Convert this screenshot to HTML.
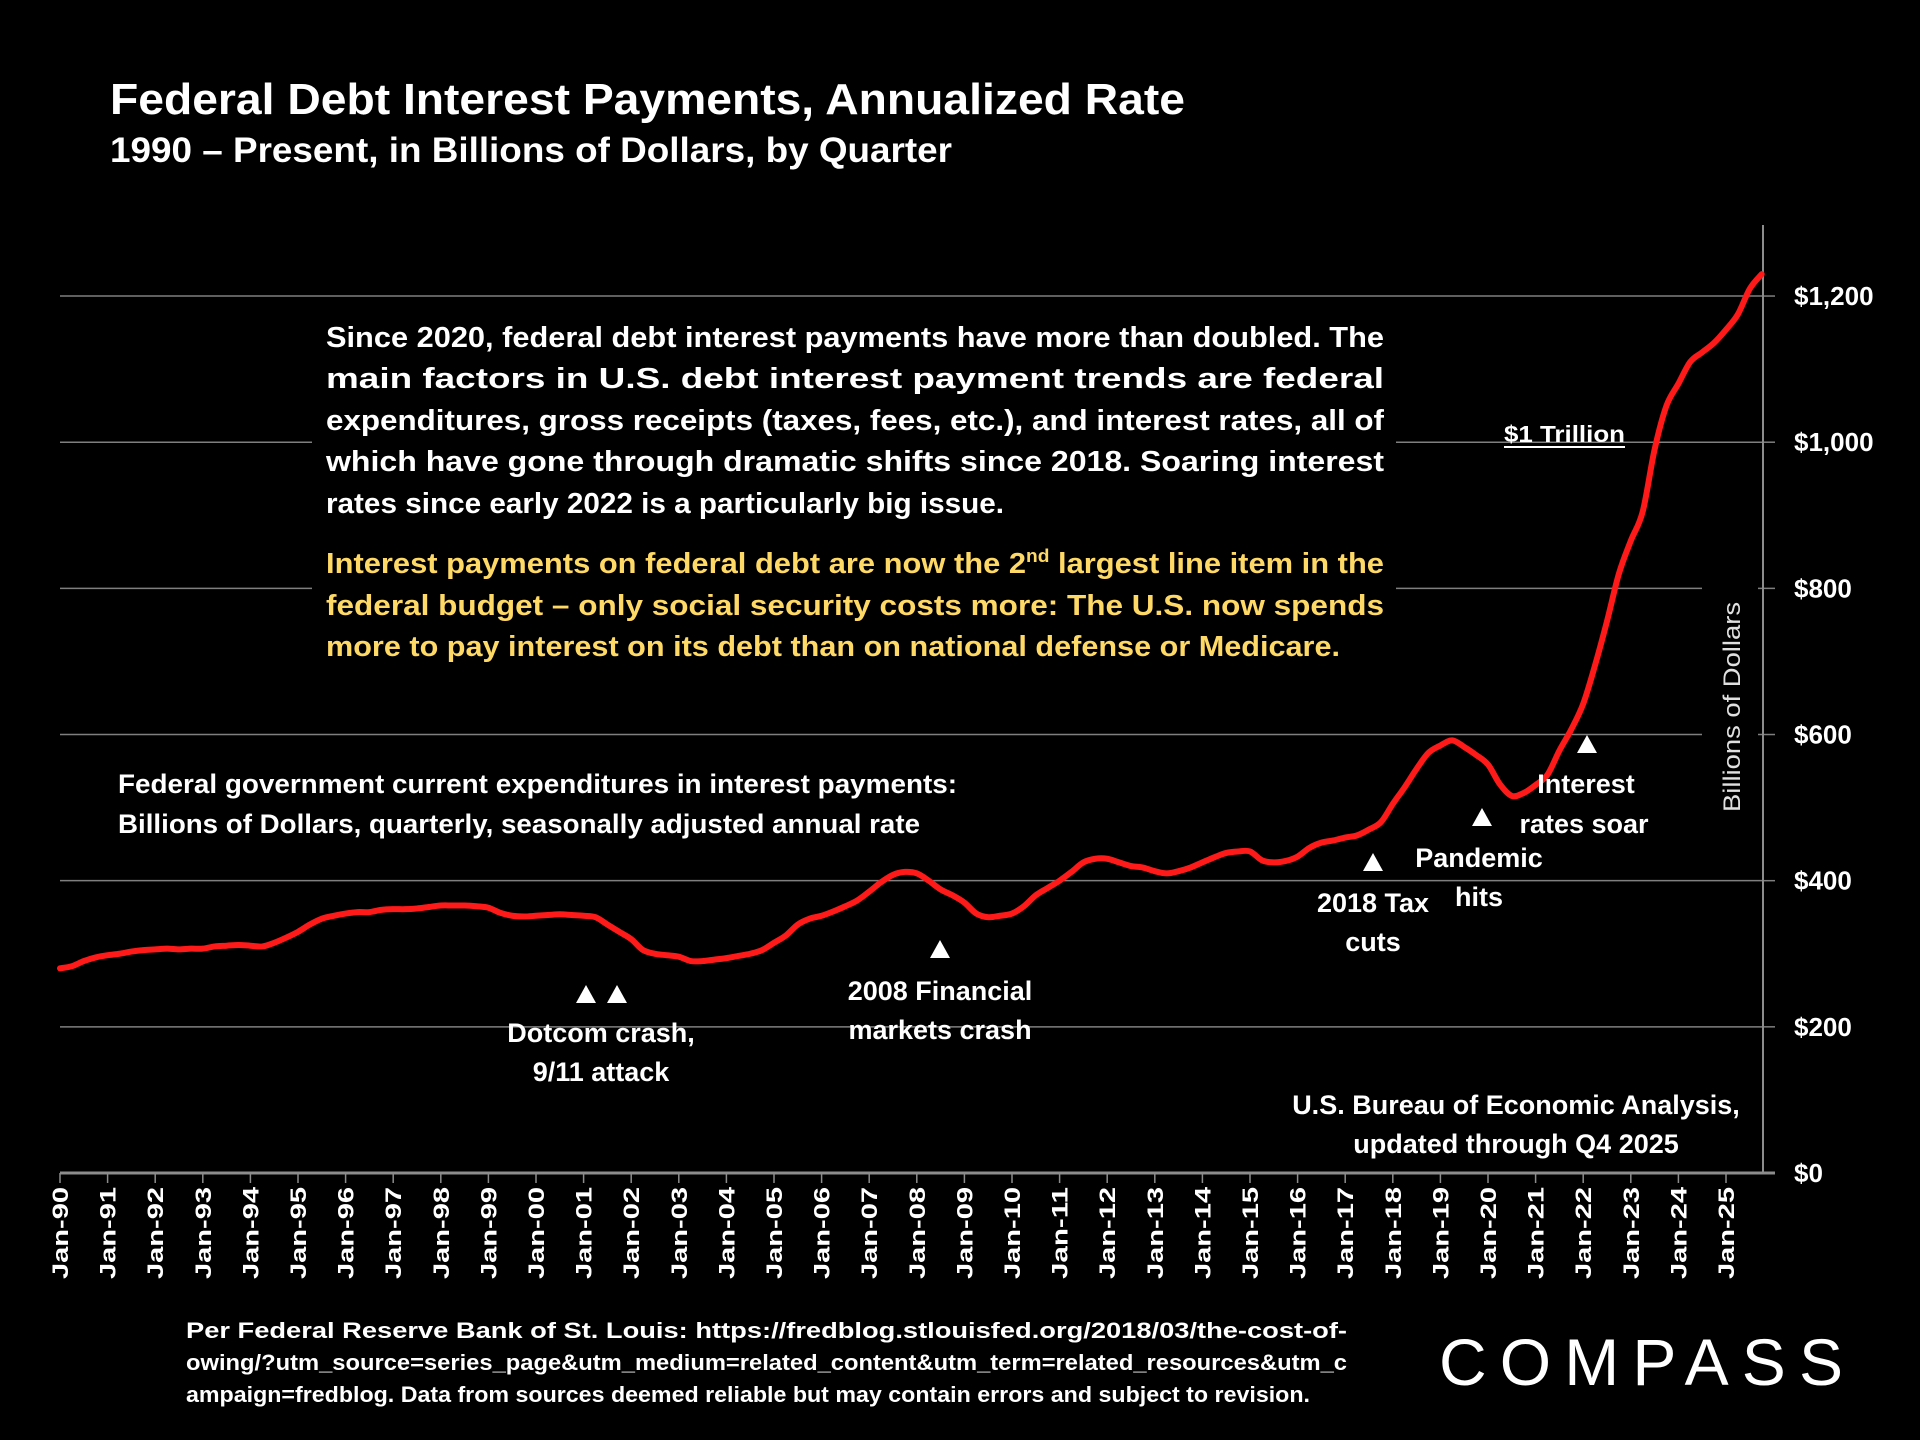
<!DOCTYPE html>
<html><head><meta charset="utf-8"><style>
html,body{margin:0;padding:0;background:#000;}
svg{display:block;font-family:"Liberation Sans",sans-serif;}
</style></head><body>
<svg id="chart" width="1920" height="1440" viewBox="0 0 1920 1440" xmlns="http://www.w3.org/2000/svg">
<rect width="1920" height="1440" fill="#000"/>
<g id="grid"></g>
<rect x="312" y="312" width="1084" height="355" fill="#000"/>
<rect x="1702" y="560" width="56" height="270" fill="#000"/>
<g id="axes"></g>
<path id="series" fill="none" stroke="#ff1a1a" stroke-width="6" stroke-linejoin="round" stroke-linecap="round"/>
<g id="ylabels" font-weight="bold" font-size="26" fill="#fff"></g>
<g id="xlabels" font-weight="bold" font-size="22" fill="#fff"></g>

<text x="110" y="114" font-size="44" font-weight="bold" fill="#fff" textLength="1075" lengthAdjust="spacingAndGlyphs">Federal Debt Interest Payments, Annualized Rate</text>
<text x="110" y="162" font-size="35" font-weight="bold" fill="#fff" textLength="842" lengthAdjust="spacingAndGlyphs">1990 – Present, in Billions of Dollars, by Quarter</text>

<g font-size="29" font-weight="bold" fill="#fff">
<text x="326" y="347" textLength="1058" lengthAdjust="spacingAndGlyphs">Since 2020, federal debt interest payments have more than doubled. The</text>
<text x="326" y="388" textLength="1058" lengthAdjust="spacingAndGlyphs">main factors in U.S. debt interest payment trends are federal</text>
<text x="326" y="430" textLength="1058" lengthAdjust="spacingAndGlyphs">expenditures, gross receipts (taxes, fees, etc.), and interest rates, all of</text>
<text x="326" y="471" textLength="1058" lengthAdjust="spacingAndGlyphs">which have gone through dramatic shifts since 2018. Soaring interest</text>
<text x="326" y="513" textLength="678" lengthAdjust="spacingAndGlyphs">rates since early 2022 is a particularly big issue.</text>
</g>
<g font-size="29" font-weight="bold" fill="#ffd966">
<text x="326" y="573" textLength="1058" lengthAdjust="spacingAndGlyphs">Interest payments on federal debt are now the 2<tspan font-size="18" dy="-11">nd</tspan><tspan dy="11"> largest line item in the</tspan></text>
<text x="326" y="615" textLength="1058" lengthAdjust="spacingAndGlyphs">federal budget – only social security costs more: The U.S. now spends</text>
<text x="326" y="656" textLength="1014" lengthAdjust="spacingAndGlyphs">more to pay interest on its debt than on national defense or Medicare.</text>
</g>
<g font-size="27" font-weight="bold" fill="#fff">
<text x="118" y="793" textLength="839" lengthAdjust="spacingAndGlyphs">Federal government current expenditures in interest payments:</text>
<text x="118" y="833" textLength="802" lengthAdjust="spacingAndGlyphs">Billions of Dollars, quarterly, seasonally adjusted annual rate</text>
</g>

<g font-size="27" font-weight="bold" fill="#fff" text-anchor="middle">
<polygon points="586,985 576,1003 596,1003" fill="#fff"/>
<polygon points="617,985 607,1003 627,1003" fill="#fff"/>
<text x="601" y="1042">Dotcom crash,</text><text x="601" y="1081">9/11 attack</text>
<polygon points="940,940 930,958 950,958" fill="#fff"/>
<text x="940" y="1000">2008 Financial</text><text x="940" y="1039">markets crash</text>
<polygon points="1373,853 1363,871 1383,871" fill="#fff"/>
<text x="1373" y="912">2018 Tax</text><text x="1373" y="951">cuts</text>
<polygon points="1482,808 1472,826 1492,826" fill="#fff"/>
<text x="1479" y="867">Pandemic</text><text x="1479" y="906">hits</text>
<polygon points="1587,735 1577,753 1597,753" fill="#fff"/>
<text x="1586" y="793">Interest</text><text x="1584" y="833">rates soar</text>
</g>
<text x="1504" y="442" font-size="23" font-weight="bold" fill="#fff" textLength="121" lengthAdjust="spacingAndGlyphs">$1 Trillion</text>
<line x1="1504" y1="447" x2="1625" y2="447" stroke="#fff" stroke-width="2"/>
<g font-size="27" font-weight="bold" fill="#fff" text-anchor="middle">
<text x="1516" y="1114">U.S. Bureau of Economic Analysis,</text>
<text x="1516" y="1153">updated through Q4 2025</text>
</g>
<text transform="translate(1740,707) rotate(-90)" text-anchor="middle" font-size="24" fill="#e0e0e0" textLength="210" lengthAdjust="spacingAndGlyphs">Billions of Dollars</text>

<g font-size="22" font-weight="bold" fill="#fff">
<text x="186" y="1338" textLength="1161" lengthAdjust="spacingAndGlyphs">Per Federal Reserve Bank of St. Louis: https://fredblog.stlouisfed.org/2018/03/the-cost-of-</text>
<text x="186" y="1370" textLength="1161" lengthAdjust="spacingAndGlyphs">owing/?utm_source=series_page&amp;utm_medium=related_content&amp;utm_term=related_resources&amp;utm_c</text>
<text x="186" y="1402" textLength="1124" lengthAdjust="spacingAndGlyphs">ampaign=fredblog. Data from sources deemed reliable but may contain errors and subject to revision.</text>
</g>
<text x="1439" y="1385" font-size="66" fill="#fff" textLength="404" lengthAdjust="spacing">COMPASS</text>
</svg>
<script>
const years = [1990,1991,1992,1993,1994,1995,1996,1997,1998,1999,2000,2001,2002,2003,2004,2005,2006,2007,2008,2009,2010,2011,2012,2013,2014,2015,2016,2017,2018,2019,2020,2021,2022,2023,2024,2025];
const values = [
280,283,290,295, 298,300,303,305, 306,307,306,307, 307,310,311,312,
311,310,315,322, 330,340,348,352, 355,357,357,360, 361,361,362,364,
366,366,366,365, 363,356,352,351, 352,353,354,353, 352,350,340,330,
320,305,300,298, 296,290,290,292, 294,297,300,305, 315,325,340,348,
352,358,365,373, 385,398,408,412, 410,400,388,380, 370,355,350,352,
355,365,380,390, 400,412,425,430, 430,425,420,418, 413,410,413,418,
425,432,438,440, 440,428,425,427, 433,445,452,455, 459,462,470,480,
505,528,553,575, 585,592,583,572, 559,532,516,520, 531,545,578,607,
642,695,755,820, 865,905,990,1050, 1080,1110,1123,1136, 1154,1175,1210,1230];
const yTicks = [0,200,400,600,800,1000,1200];
const yTickLabels = ["$0","$200","$400","$600","$800","$1,000","$1,200"];
const xTickLabels = years.map(y => "Jan-" + String(y).slice(2));

const NS = "http://www.w3.org/2000/svg";
const X0 = 60, PX_PER_YEAR = 47.6, Y0 = 1173, PX_PER_UNIT = 0.7308;
function xScale(t){ return X0 + (t - 1990) * PX_PER_YEAR; }
function yScale(v){ return Y0 - v * PX_PER_UNIT; }
function mk(tag, attrs){ const e = document.createElementNS(NS, tag); for (const k in attrs) e.setAttribute(k, attrs[k]); return e; }

const grid = document.getElementById('grid');
const ylab = document.getElementById('ylabels');
yTicks.forEach((v, i) => {
  if (v > 0) {
    const l = mk('line', {x1: X0, x2: 1763, y1: yScale(v), y2: yScale(v), stroke: '#7f7f7f', 'stroke-width': 1.5});
    
    
    grid.appendChild(l);
  }
  const tk = mk('line', {x1: 1763, x2: 1775, y1: yScale(v), y2: yScale(v), stroke: '#7f7f7f', 'stroke-width': 1.5});
  
  
  grid.appendChild(tk);
  const t = mk('text', {x: 1794, y: yScale(v) + 9});
  
  
  t.textContent = yTickLabels[i];
  ylab.appendChild(t);
});

const axes = document.getElementById('axes');
const xa = mk('line', {x1: X0, x2: 1775, y1: Y0, y2: Y0, stroke: '#8c8c8c', 'stroke-width': 3});


axes.appendChild(xa);
const ya = mk('line', {x1: 1763, x2: 1763, y1: 225, y2: Y0, stroke: '#8c8c8c', 'stroke-width': 2});


axes.appendChild(ya);

const xlab = document.getElementById('xlabels');
years.forEach((y, i) => {
  const x = xScale(y);
  const tk = mk('line', {x1: x, x2: x, y1: Y0, y2: Y0 + 10, stroke: '#8c8c8c', 'stroke-width': 1.5});
  
  
  axes.appendChild(tk);
  const t = mk('text', {transform: `translate(${x + 8},${Y0 + 14}) rotate(-90)`, 'text-anchor': 'end', textLength: 92, lengthAdjust: 'spacingAndGlyphs'});
  
  
  t.textContent = xTickLabels[i];
  xlab.appendChild(t);
});

const pts = values.map((v, i) => [xScale(1990 + i / 4), yScale(v)]);
let d = `M${pts[0][0]},${pts[0][1]}`;
for (let i = 0; i < pts.length - 1; i++) {
  const p0 = pts[Math.max(0, i - 1)], p1 = pts[i], p2 = pts[i + 1], p3 = pts[Math.min(pts.length - 1, i + 2)];
  const c1x = p1[0] + (p2[0] - p0[0]) / 6, c1y = p1[1] + (p2[1] - p0[1]) / 6;
  const c2x = p2[0] - (p3[0] - p1[0]) / 6, c2y = p2[1] - (p3[1] - p1[1]) / 6;
  d += ` C${c1x},${c1y} ${c2x},${c2y} ${p2[0]},${p2[1]}`;
}
document.getElementById('series').setAttribute('d', d);
</script>
</body></html>
